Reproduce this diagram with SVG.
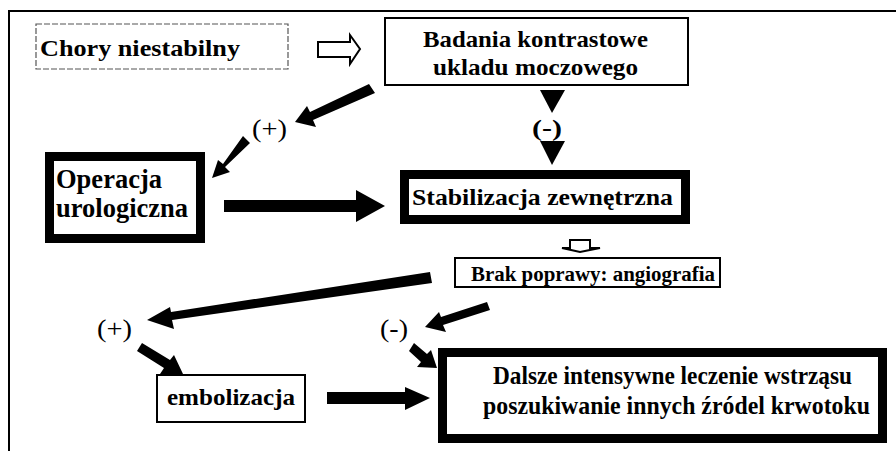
<svg xmlns="http://www.w3.org/2000/svg" width="896" height="451" viewBox="0 0 896 451">
<style>
.t{font-family:"Liberation Serif","Times New Roman",serif;font-weight:bold;fill:#000}
.r{font-family:"Liberation Serif","Times New Roman",serif;font-weight:normal;fill:#000}
.thin{fill:#fff;stroke:#000;stroke-width:2}
.thick{fill:#fff;stroke:#000;stroke-width:9}
.arr{fill:#000;stroke:none}
.hollow{fill:#fff;stroke:#000;stroke-width:2}
</style>
<rect x="0" y="0" width="896" height="451" fill="#fff"/>
<path d="M9 451 V11 H896" fill="none" stroke="#000" stroke-width="2"/>

<g id="chory">
<rect x="36" y="24" width="252" height="45" fill="#fff" stroke="#555" stroke-width="1.2" stroke-dasharray="6,2"/>
<text class="t" x="40" y="56" font-size="24" textLength="200" lengthAdjust="spacingAndGlyphs">Chory niestabilny</text>
</g>

<g id="badania">
<rect class="thin" x="385" y="18" width="303" height="67"/>
<text class="t" x="423" y="47" font-size="24" textLength="225" lengthAdjust="spacingAndGlyphs">Badania kontrastowe</text>
<text class="t" x="433" y="75" font-size="24" textLength="205" lengthAdjust="spacingAndGlyphs">ukladu moczowego</text>
</g>

<g id="operacja">
<rect class="thick" x="49.5" y="156.5" width="151" height="82"/>
<text class="t" x="56" y="188" font-size="27" textLength="106" lengthAdjust="spacingAndGlyphs">Operacja</text>
<text class="t" x="56" y="217" font-size="27" textLength="132" lengthAdjust="spacingAndGlyphs">urologiczna</text>
</g>

<g id="stabilizacja">
<rect class="thick" x="404.5" y="174.5" width="281" height="45"/>
<text class="t" x="412" y="205" font-size="24" textLength="261" lengthAdjust="spacingAndGlyphs">Stabilizacja zewnętrzna</text>
</g>

<g id="brak">
<rect class="thin" x="455" y="258" width="265" height="29"/>
<text class="t" x="471" y="281" font-size="20" textLength="244" lengthAdjust="spacingAndGlyphs">Brak poprawy: angiografia</text>
</g>

<g id="embolizacja">
<rect class="thin" x="157" y="375" width="148" height="47"/>
<text class="t" x="167" y="405" font-size="24" textLength="128" lengthAdjust="spacingAndGlyphs">embolizacja</text>
</g>

<g id="dalsze">
<rect class="thick" x="442.5" y="352.5" width="440" height="86"/>
<text class="t" x="493" y="384" font-size="25" textLength="359" lengthAdjust="spacingAndGlyphs">Dalsze intensywne leczenie wstrząsu</text>
<text class="t" x="483" y="414" font-size="25" textLength="387" lengthAdjust="spacingAndGlyphs">poszukiwanie innych źródel krwotoku</text>
</g>

<g id="labels">
<text class="r" x="252" y="137" font-size="26" textLength="35" lengthAdjust="spacingAndGlyphs">(+)</text>
<text class="t" x="532" y="136" font-size="24" textLength="30" lengthAdjust="spacingAndGlyphs">(-)</text>
<text class="r" x="97" y="337" font-size="26" textLength="35" lengthAdjust="spacingAndGlyphs">(+)</text>
<text class="r" x="380" y="337" font-size="26" textLength="28" lengthAdjust="spacingAndGlyphs">(-)</text>
</g>

<g id="connectors">
<path class="hollow" d="M318 42 H350 V35 L360 49 L350 64 V57 H318 Z"/>
<path class="arr" d="M369 84 L375 93 L313 120 L316 127 L295 122 L307 106 L310 112 Z"/>
<path class="arr" d="M243 136 L250 143 L225 167 L230 172 L212 178 L218 160 L223 164 Z"/>
<path class="arr" d="M224 200 H356 V190 L385 206 L356 222 V212 H224 Z"/>
<path class="arr" d="M540 90 H565 L552 113 Z"/>
<path class="arr" d="M540 141 H565 L552 165 Z"/>
<path class="hollow" d="M570 240 H590 V248 H600 L580 252 L562 248 H570 Z"/>
<path class="arr" d="M430 272 L432 283 L172 320 L174 329 L147 320 L170 307 L171 312 Z"/>
<path class="arr" d="M487 302 L490 310 L443 325 L446 332 L425 327 L439 312 L441 317 Z"/>
<path class="arr" d="M142 343 L137 351 L164 368 L160 374 L183 374 L174 355 L170 360 Z"/>
<path class="arr" d="M414 343 L409 351 L421 362 L417 367 L437 368 L431 350 L427 354 Z"/>
<path class="arr" d="M327 392 H405 V387 L430 398 L405 410 V404 H327 Z"/>
</g>
</svg>
